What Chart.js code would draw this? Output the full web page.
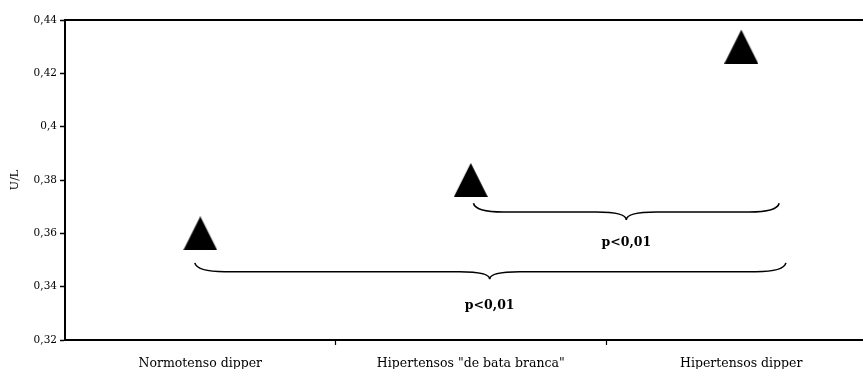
<!DOCTYPE html>
<html>
<head>
<meta charset="utf-8">
<script src="https://cdn.jsdelivr.net/npm/chart.js@4/dist/chart.umd.min.js"></script>
<style>
html,body{margin:0;padding:0;background:#fff;overflow:hidden;}
#wrap{position:relative;width:863px;height:369px;}
</style>
</head>
<body>
<div id="wrap"><canvas id="c"></canvas></div>
<script>
// ---- data ----
const categories = ['Normotenso dipper', 'Hipertensos "de bata branca"', 'Hipertensos dipper'];
const values = [0.36, 0.38, 0.43];
const yTicks = [0.32, 0.34, 0.36, 0.38, 0.40, 0.42, 0.44];
const yTitle = 'U/L';
// significance brackets (x in category units, y in U/L)
const bracketFrom = [1.01, -0.02];
const bracketTo = [2.14, 2.165];
const bracketTip = [1.575, 1.07];
const bracketTopY = [0.3713, 0.3489];
const bracketMidY = [0.3680, 0.3456];
const bracketTipY = [0.3650, 0.3428];
const bracketLabelY = [0.3564, 0.3330];
const bracketLabels = ['p<0,01', 'p<0,01'];

const SERIF = '"DejaVu Serif", "Liberation Serif", serif';

// triangle marker
function triangleMarker(w, h) {
  const c = document.createElement('canvas');
  c.width = w; c.height = h;
  const g = c.getContext('2d');
  g.fillStyle = '#000';
  g.beginPath();
  g.moveTo(w / 2, 0);
  g.lineTo(w, h);
  g.lineTo(0, h);
  g.closePath();
  g.fill();
  return c;
}
const tri = triangleMarker(34, 34);

const bracketPlugin = {
  id: 'brackets',
  afterDatasetsDraw(chart) {
    const ctx = chart.ctx, xs = chart.scales.x, ys = chart.scales.y;
    ctx.save();
    ctx.strokeStyle = '#000';
    ctx.lineWidth = 1.6;
    for (let i = 0; i < bracketFrom.length; i++) {
      const x0 = xs.getPixelForValue(bracketFrom[i]);
      const x1 = xs.getPixelForValue(bracketTo[i]);
      const xc = xs.getPixelForValue(bracketTip[i]);
      const yT = ys.getPixelForValue(bracketTopY[i]);
      const yM = ys.getPixelForValue(bracketMidY[i]);
      const yP = ys.getPixelForValue(bracketTipY[i]);
      const r = 30;
      ctx.beginPath();
      ctx.moveTo(x0, yT);
      ctx.quadraticCurveTo(x0 + 2, yM, x0 + r, yM);
      ctx.lineTo(xc - r, yM);
      ctx.quadraticCurveTo(xc, yM, xc, yP);
      ctx.quadraticCurveTo(xc, yM, xc + r, yM);
      ctx.lineTo(x1 - r, yM);
      ctx.quadraticCurveTo(x1 - 2, yM, x1, yT);
      ctx.stroke();
      ctx.fillStyle = '#000';
      ctx.font = 'bold 12.5px ' + SERIF;
      ctx.textAlign = 'center';
      ctx.textBaseline = 'middle';
      ctx.fillText(bracketLabels[i], xc, ys.getPixelForValue(bracketLabelY[i]));
    }
    ctx.restore();
  }
};

new Chart(document.getElementById('c'), {
  type: 'scatter',
  data: {
    datasets: [{
      data: values.map((v, i) => ({ x: i, y: v })),
      pointStyle: tri,
      pointRadius: 17,
      pointHoverRadius: 17,
      showLine: false,
      backgroundColor: '#000',
      borderColor: '#000'
    }]
  },
  options: {
    responsive: true,
    maintainAspectRatio: false,
    animation: false,
    events: [],
    layout: { autoPadding: false, padding: { top: 20, right: 0, left: 0, bottom: 0 } },
    plugins: { legend: { display: false }, tooltip: { enabled: false } },
    scales: {
      x: {
        type: 'linear',
        min: -0.5,
        max: 2.45,
        afterBuildTicks(s) { s.ticks = [0, 0.5, 1, 1.5, 2].map(v => ({ value: v })); },
        afterFit(s) { s.height = 29; },
        border: { display: true, color: '#000', width: 2 },
        grid: {
          display: true,
          drawOnChartArea: false,
          drawTicks: true,
          tickLength: 5,
          tickWidth: 1.2,
          tickColor: (ctx) => (ctx.tick && Number.isInteger(ctx.tick.value)) ? 'rgba(0,0,0,0)' : '#000'
        },
        ticks: {
          autoSkip: false,
          maxRotation: 0,
          padding: 11,
          color: '#000',
          font: { family: SERIF, size: 12.5 },
          callback: (v) => Number.isInteger(v) ? categories[v] : ''
        }
      },
      x2: {
        type: 'linear',
        position: 'top',
        min: -0.5,
        max: 2.45,
        afterFit(s) { s.height = 0; },
        border: { display: true, color: '#000', width: 2 },
        grid: { display: false, drawTicks: false },
        ticks: { display: false }
      },
      y: {
        min: 0.32,
        max: 0.44,
        afterBuildTicks(s) { s.ticks = yTicks.map(v => ({ value: v })); },
        afterFit(s) { s.width = 65; },
        border: { display: true, color: '#000', width: 2 },
        grid: { display: true, drawOnChartArea: false, tickLength: 5, tickWidth: 1.5, tickColor: '#000' },
        ticks: {
          padding: 3,
          color: '#000',
          font: { family: SERIF, size: 10.5 },
          callback: (v) => String(Math.round(v * 100) / 100).replace('.', ',')
        },
        title: {
          display: true,
          text: yTitle,
          color: '#000',
          font: { family: SERIF, size: 11 },
          padding: { top: 9, bottom: 0 }
        }
      }
    }
  },
  plugins: [bracketPlugin]
});
</script>
</body>
</html>
